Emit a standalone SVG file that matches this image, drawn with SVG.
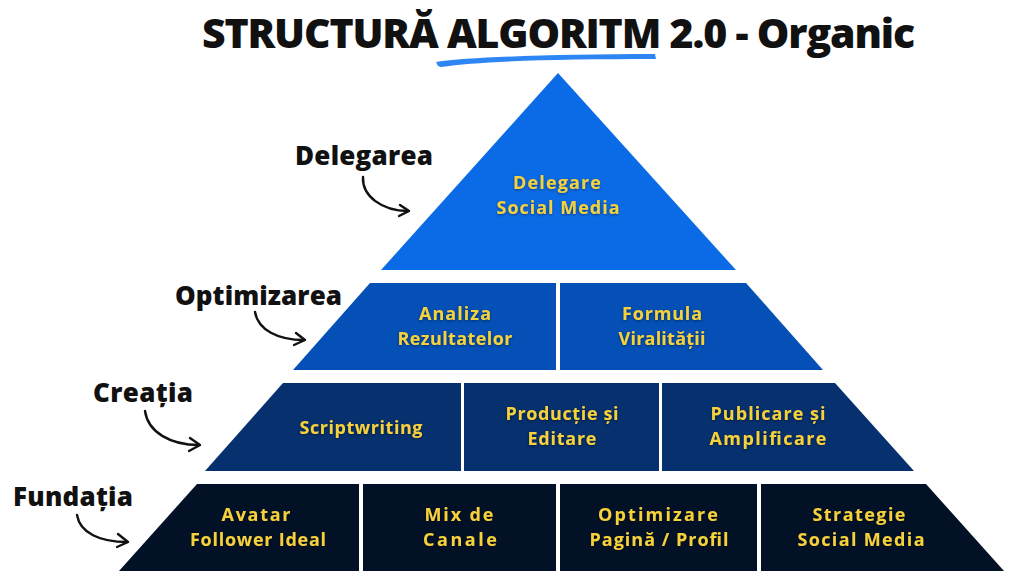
<svg xmlns="http://www.w3.org/2000/svg" width="1024" height="576" viewBox="0 0 1024 576">
<defs>
<style>
.title{font-family:"Open Sans","Liberation Sans",sans-serif;font-weight:800;font-size:41px;fill:#111;}
.side{font-family:"Open Sans","Liberation Sans",sans-serif;font-weight:800;font-size:26px;fill:#111;}
.cell{font-family:"Open Sans","Liberation Sans",sans-serif;font-weight:700;font-size:18px;fill:#F6D13B;text-anchor:middle;filter:url(#glow);}
.arrow{fill:none;stroke:#111;stroke-width:2.4;stroke-linecap:round;stroke-linejoin:round;}
.t1{fill:#0B6BE6;}
.t2{fill:#0450B6;}
.t3{fill:#06306E;}
.t4{fill:#031126;}
</style>
<filter id="glow" x="-20%" y="-40%" width="140%" height="180%">
<feDropShadow dx="0" dy="1" stdDeviation="1.5" flood-color="#000" flood-opacity="0.45"/>
</filter>
</defs>
<rect width="1024" height="576" fill="#ffffff"/>

<g id="title">
<path d="M436,62 C470,57 560,54 655,54 L656,59 C560,59 480,61 441,67 L438,66 Z" fill="#2E86F5"/>
<text class="title" x="202" y="48" textLength="713" lengthAdjust="spacing">STRUCTURĂ ALGORITM 2.0 - Organic</text>
</g>

<g id="tier1">
<polygon class="t1" points="558,73 736,270 381,270"/>
<text class="cell" x="557" y="189" textLength="88" lengthAdjust="spacing">Delegare</text>
<text class="cell" x="558" y="214" textLength="123" lengthAdjust="spacing">Social Media</text>
</g>

<g id="tier2">
<polygon id="analiza" class="t2" points="370,283 556,283 556,370 293,370"/>
<polygon id="formula" class="t2" points="560,283 746,283 823,370 560,370"/>
<text class="cell" x="455" y="320" textLength="72" lengthAdjust="spacing">Analiza</text>
<text class="cell" x="455" y="345" textLength="115" lengthAdjust="spacing">Rezultatelor</text>
<text class="cell" x="662" y="320" textLength="80" lengthAdjust="spacing">Formula</text>
<text class="cell" x="662" y="345" textLength="87" lengthAdjust="spacing">Viralității</text>
</g>

<g id="tier3">
<polygon id="script" class="t3" points="283,383 461,383 461,471 205,471"/>
<polygon id="productie" class="t3" points="464,383 659,383 659,471 464,471"/>
<polygon id="publicare" class="t3" points="662,383 835,383 914,471 662,471"/>
<text class="cell" x="361" y="434" textLength="123" lengthAdjust="spacing">Scriptwriting</text>
<text class="cell" x="562" y="420" textLength="113" lengthAdjust="spacing">Producție și</text>
<text class="cell" x="562" y="445" textLength="69" lengthAdjust="spacing">Editare</text>
<text class="cell" x="768" y="420" textLength="115" lengthAdjust="spacing">Publicare și</text>
<text class="cell" x="768" y="445" textLength="117" lengthAdjust="spacing">Amplificare</text>
</g>

<g id="tier4">
<polygon id="avatar" class="t4" points="197,484 359,484 359,571 119,571"/>
<polygon id="mix" class="t4" points="363,484 556,484 556,571 363,571"/>
<polygon id="optimizare" class="t4" points="560,484 757,484 757,571 560,571"/>
<polygon id="strategie" class="t4" points="761,484 926,484 1004,571 761,571"/>
<text class="cell" x="256" y="521" textLength="69" lengthAdjust="spacing">Avatar</text>
<text class="cell" x="258" y="546" textLength="136" lengthAdjust="spacing">Follower Ideal</text>
<text class="cell" x="459" y="521" textLength="69" lengthAdjust="spacing">Mix de</text>
<text class="cell" x="460" y="546" textLength="74" lengthAdjust="spacing">Canale</text>
<text class="cell" x="658" y="521" textLength="120" lengthAdjust="spacing">Optimizare</text>
<text class="cell" x="659" y="546" textLength="139" lengthAdjust="spacing">Pagină / Profil</text>
<text class="cell" x="859" y="521" textLength="93" lengthAdjust="spacing">Strategie</text>
<text class="cell" x="861" y="546" textLength="127" lengthAdjust="spacing">Social Media</text>
</g>

<g id="labels">
<text class="side" x="295" y="165" textLength="138" lengthAdjust="spacing">Delegarea</text>
<text class="side" x="175" y="305" textLength="167" lengthAdjust="spacing">Optimizarea</text>
<text class="side" x="93" y="402" textLength="100" lengthAdjust="spacing">Creația</text>
<text class="side" x="13" y="506" textLength="120" lengthAdjust="spacing">Fundația</text>
</g>

<g id="connectors">
<path class="arrow" d="M363,177 C362,196 382,211 408,211"/>
<path class="arrow" d="M400,205 L409,211 L399,216"/>
<path class="arrow" d="M255,312 C258,330 278,340 304,340"/>
<path class="arrow" d="M296,333 L305,340 L294,345"/>
<path class="arrow" d="M145,411 C148,432 170,445 199,445"/>
<path class="arrow" d="M190,438 L200,445 L189,451"/>
<path class="arrow" d="M77,515 C80,533 100,542 127,542"/>
<path class="arrow" d="M118,534 L128,542 L117,547"/>
</g>
</svg>
